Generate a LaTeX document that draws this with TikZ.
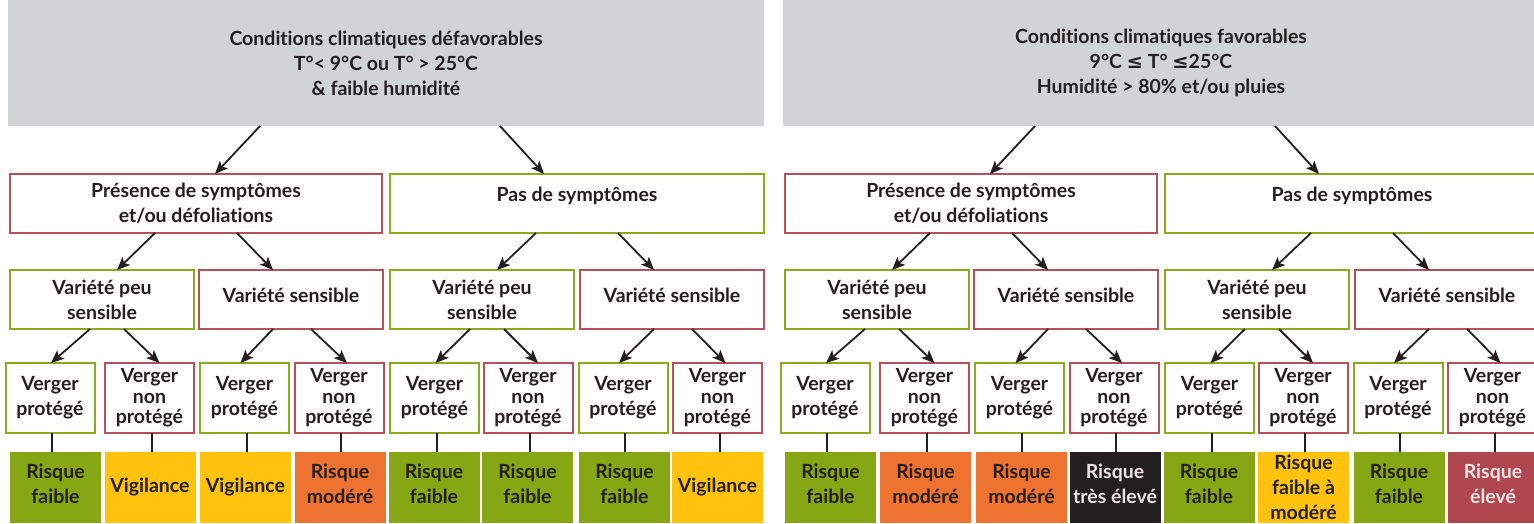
\documentclass[tikz,border=0pt]{standalone}
\usepackage{fontspec}
\setmainfont{Lato}[Ligatures={NoCommon}]
\newfontfamily\symf{DejaVu Sans}
\usetikzlibrary{arrows.meta,calc}
\definecolor{ink}{HTML}{231F20}
\definecolor{grayfill}{HTML}{D1D3D4}
\definecolor{gline}{HTML}{8CAA1E}
\definecolor{rline}{HTML}{B5515B}
\definecolor{rgreen}{HTML}{87A614}
\definecolor{ryellow}{HTML}{FFC20E}
\definecolor{rorange}{HTML}{EE7330}
\definecolor{rblack}{HTML}{231F20}
\definecolor{rred}{HTML}{B0474F}
\definecolor{lighttext}{HTML}{EEE3E5}
\newcommand\txtfont{\bfseries\fontsize{19.5}{25}\selectfont}
\tikzset{
  base/.style={inner sep=0pt, outer sep=0pt, align=center, text=ink, font=\txtfont},
  topbox/.style={base, fill=grayfill, minimum width=756pt, minimum height=126pt},
  gbox/.style={base, draw=gline, line width=2pt, fill=white},
  rbox/.style={base, draw=rline, line width=2pt, fill=white},
  lvtwo/.style={minimum height=59pt},
  lvthree/.style={minimum width=184pt, minimum height=59pt},
  orch/.style={minimum width=89pt, minimum height=70pt},
  tight/.style={font=\bfseries\fontsize{19.5}{20.5}\selectfont},
  riskbox/.style={base, minimum width=91pt, minimum height=71pt},
  risktwo/.style={riskbox, text height=40pt, text depth=8pt},
  arr/.style={draw=ink, line width=1.8pt, -{Stealth[length=13pt,width=11pt,inset=3pt]}},
  link/.style={draw=ink, line width=2pt}
}
\newcommand\halftree[4]{%
\begin{scope}[xshift=#2pt]
\node[topbox] (#1top) at (386,63) {#3};
\node[rbox, lvtwo, minimum width=372pt] (#1p) at (196,203.5) {Présence de symptômes\\et/ou défoliations};
\node[gbox, lvtwo, minimum width=374pt, text height=15pt, text depth=20pt] (#1n) at (577,203.5) {Pas de symptômes};
\node[gbox, lvthree] (#1pa) at (102,299.5) {Variété peu\\sensible};
\node[rbox, lvthree, text height=15pt, text depth=10pt] (#1pb) at (291,299.5) {Variété sensible};
\node[gbox, lvthree] (#1na) at (482,299.5) {Variété peu\\sensible};
\node[rbox, lvthree, text height=15pt, text depth=10pt] (#1nb) at (672,299.5) {Variété sensible};
\node[gbox, orch] (#1v1) at (50,398) {Verger\\protégé};
\node[rbox, orch, tight] (#1v2) at (149.5,398) {Verger\\non\\protégé};
\node[gbox, orch] (#1v3) at (244.5,398) {Verger\\protégé};
\node[rbox, orch, tight] (#1v4) at (339,398) {Verger\\non\\protégé};
\node[gbox, orch] (#1v5) at (434.5,398) {Verger\\protégé};
\node[rbox, orch, tight] (#1v6) at (528,398) {Verger\\non\\protégé};
\node[gbox, orch] (#1v7) at (623,398) {Verger\\protégé};
\node[rbox, orch, tight] (#1v8) at (717.5,398) {Verger\\non\\protégé};
\draw[arr] ($(#1top.south)+(-126,0)$) -- ($(#1p.north)+(19,0)$);
\draw[arr] ($(#1top.south)+(114,0)$) -- ($(#1n.north)+(-33,0)$);
\draw[arr] ($(#1p.south)+(-41,0)$) -- ($(#1pa.north)+(15,0)$);
\draw[arr] ($(#1p.south)+(41,0)$) -- ($(#1pb.north)+(-18,0)$);
\draw[arr] ($(#1n.south)+(-41,0)$) -- ($(#1na.north)+(15,0)$);
\draw[arr] ($(#1n.south)+(41,0)$) -- ($(#1nb.north)+(-18,0)$);
\draw[arr] ($(#1pa.south)+(-12,0)$) -- ($(#1v1.north)+(1,0)$);
\draw[arr] ($(#1pa.south)+(22,0)$) -- ($(#1v2.north)+(10,0)$);
\draw[arr] ($(#1pb.south)+(-18,0)$) -- ($(#1v3.north)+(-4,0)$);
\draw[arr] ($(#1pb.south)+(20,0)$) -- ($(#1v4.north)+(8,0)$);
\draw[arr] ($(#1na.south)+(-12,0)$) -- ($(#1v5.north)+(1,0)$);
\draw[arr] ($(#1na.south)+(22,0)$) -- ($(#1v6.north)+(10,0)$);
\draw[arr] ($(#1nb.south)+(-18,0)$) -- ($(#1v7.north)+(-4,0)$);
\draw[arr] ($(#1nb.south)+(20,0)$) -- ($(#1v8.north)+(8,0)$);
#4
\foreach \k in {1,...,8} {\draw[link] ([xshift=2pt]#1v\k.south) -- ([xshift=2pt]#1v\k.south |- #1r\k.north);}
\end{scope}}
\begin{document}
\begin{tikzpicture}[x=1pt,y=-1pt]
\useasboundingbox (0,0) rectangle (1534,523);
\halftree{L}{0}{Conditions climatiques défavorables\\T°< 9°C ou T° > 25°C\\\& faible humidité}{%
\node[risktwo, fill=rgreen] (Lr1) at (55.5,487.5) {Risque\\faible};
\node[riskbox, fill=ryellow] (Lr2) at (150,487.5) {Vigilance};
\node[riskbox, fill=ryellow] (Lr3) at (245.5,487.5) {Vigilance};
\node[risktwo, fill=rorange] (Lr4) at (340,487.5) {Risque\\modéré};
\node[risktwo, fill=rgreen] (Lr5) at (434,487.5) {Risque\\faible};
\node[risktwo, fill=rgreen] (Lr6) at (527.5,487) {Risque\\faible};
\node[risktwo, fill=rgreen] (Lr7) at (624.5,487.5) {Risque\\faible};
\node[riskbox, fill=ryellow] (Lr8) at (717.5,487.5) {Vigilance};
}
\halftree{R}{775}{Conditions climatiques favorables\\9°C {\symf ≤} T° {\symf ≤}25°C\\Humidité > 80\% et/ou pluies}{%
\node[risktwo, fill=rgreen] (Rr1) at (55.5,487.5) {Risque\\faible};
\node[risktwo, fill=rorange] (Rr2) at (150.5,487.5) {Risque\\modéré};
\node[risktwo, fill=rorange] (Rr3) at (246.5,487.5) {Risque\\modéré};
\node[risktwo, fill=rblack, text=lighttext] (Rr4) at (340,487.5) {Risque\\très élevé};
\node[risktwo, fill=rgreen] (Rr5) at (434,487.5) {Risque\\faible};
\node[riskbox, fill=ryellow] (Rr6) at (528.5,487.5) {Risque\\faible à\\modéré};
\node[risktwo, fill=rgreen] (Rr7) at (624,487.5) {Risque\\faible};
\node[risktwo, fill=rred, text=lighttext] (Rr8) at (718,487.5) {Risque\\élevé};
}
\end{tikzpicture}
\end{document}
